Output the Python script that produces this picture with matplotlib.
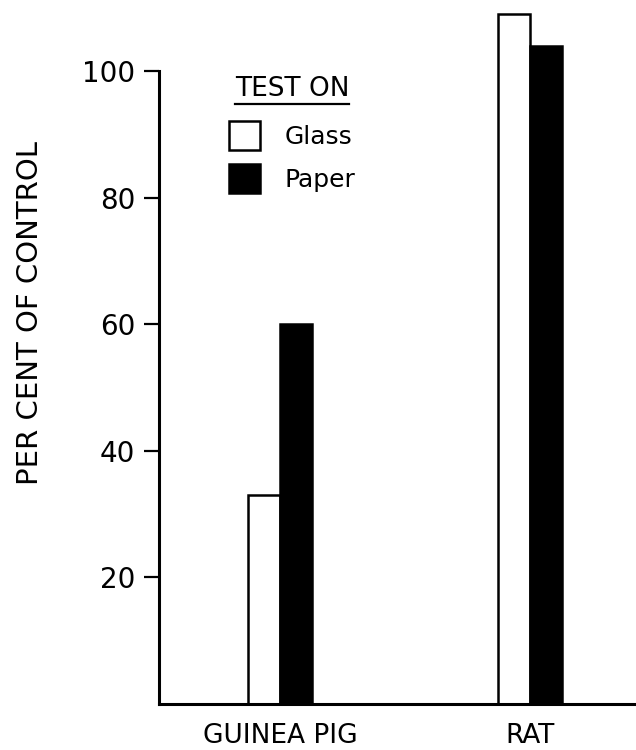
import matplotlib
matplotlib.use("Agg")
import matplotlib.pyplot as plt
from matplotlib.lines import Line2D
import numpy as np

# данные с картинки
animals = ["GUINEA PIG", "RAT"]
glass = [33, 109]
paper = [60, 104]
yticks = [20, 40, 60, 80, 100]

plt.rcParams["font.family"] = "DejaVu Sans"

fig = plt.figure(figsize=(6.36, 7.5), dpi=100)
ax = fig.add_axes([159 / 636, 46 / 750, 1 - 159 / 636, 704 / 750])

x = np.arange(len(animals))
w = 0.128
b1 = ax.bar(x - w / 2, glass, w, color="white", edgecolor="black", linewidth=1.8, label="Glass")
b2 = ax.bar(x + w / 2, paper, w, color="black", edgecolor="black", linewidth=1.8, label="Paper")

ax.set_xlim(-0.484, 1.424)
ax.set_ylim(0, 111.2)
ax.set_xticks(x)
ax.set_xticklabels(animals, fontsize=19)
ax.set_yticks(yticks)
ax.set_yticklabels([str(t) for t in yticks], fontsize=20)
ax.tick_params(axis="x", length=0, pad=14)
ax.tick_params(axis="y", length=11, width=1.6, pad=6)

for s in ["top", "right"]:
    ax.spines[s].set_visible(False)
ax.spines["left"].set_linewidth(2.2)
ax.spines["bottom"].set_linewidth(2.2)
ax.spines["left"].set_bounds(0, 100)

fig.text(30 / 636, 1 - 313 / 750, "PER CENT OF CONTROL", rotation=90,
         ha="center", va="center", fontsize=21)

leg = ax.legend(handles=[b1, b2], title="TEST ON", frameon=False, fontsize=18,
                title_fontsize=19, loc="upper left",
                bbox_to_anchor=(0.125, 1.0 - 66 / 704),
                handlelength=1.25, handleheight=1.4, handletextpad=1.0,
                labelspacing=0.55, borderaxespad=0)
leg._legend_box.sep = 14

# подчёркиваем заголовок легенды
fig.canvas.draw()
bb = leg.get_title().get_window_extent()
fig.add_artist(Line2D([bb.x0 / fig.bbox.width, bb.x1 / fig.bbox.width],
                      [(bb.y0 - 2) / fig.bbox.height] * 2,
                      color="black", linewidth=1.6, transform=fig.transFigure))

fig.savefig("out.png", dpi=100)
